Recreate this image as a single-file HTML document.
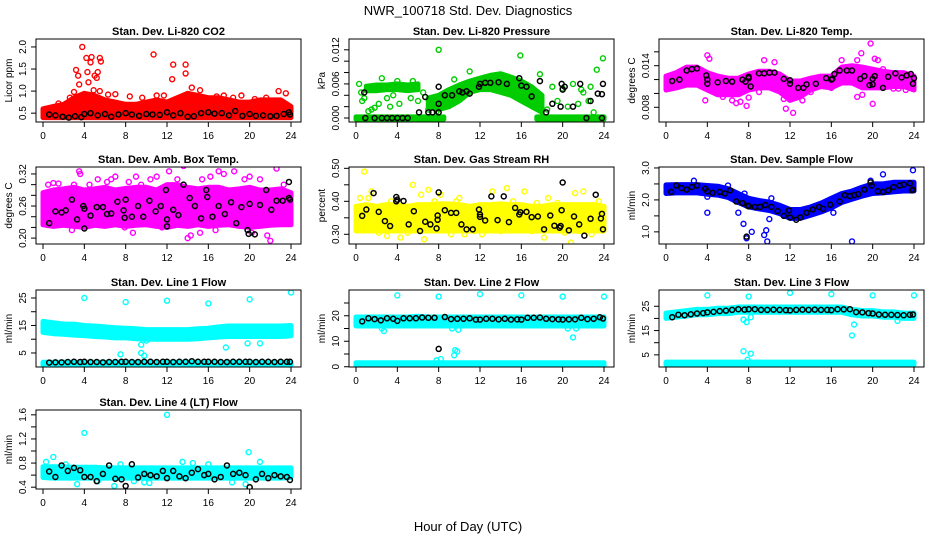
<!DOCTYPE html>
<html><head><meta charset="utf-8">
<style>
html,body{margin:0;padding:0;background:#fff;}
svg{display:block;font-family:"Liberation Sans",sans-serif;}
</style></head>
<body>
<svg id="chart" width="936" height="540" viewBox="0 0 936 540" xmlns="http://www.w3.org/2000/svg">
<rect width="936" height="540" fill="#fff"/>
<text x="468" y="15" text-anchor="middle" font-size="13">NWR_100718  Std. Dev. Diagnostics</text>
<text x="468" y="531" text-anchor="middle" font-size="13">Hour of Day (UTC)</text>
</svg>
<script>
const H = [0,1,2,3,4,5,6,7,8,9,10,11,12,13,14,15,16,17,18,19,20,21,22,23,24];
const xTicks = [0,4,8,12,16,20,24];

// Panel 1: Li-820 CO2
const co2Lo = [0.4,0.4,0.4,0.4,0.4,0.4,0.4,0.4,0.4,0.4,0.4,0.4,0.4,0.4,0.4,0.4,0.4,0.4,0.4,0.4,0.4,0.4,0.4,0.4,0.4];
const co2Hi = [0.6,0.65,0.7,0.85,0.95,0.9,0.8,0.75,0.7,0.7,0.75,0.8,0.75,0.85,0.95,0.9,0.85,0.85,0.8,0.75,0.75,0.8,0.8,0.8,0.65];
const co2OutX = [3.2,3.4,3.5,3.8,4.2,4.3,4.4,4.6,4.7,5,5.2,5.3,5.5,5.6,5.5,10.7,12.5,12.6,13.8,13.8,14.4,11.7,7,22.8,19.2,3,4.9,2.6,6.3,8.4,9.6,11,15.2,16.8,18.4,20.5,21.6,23.5,1.5,17.5];
const co2OutY = [1.48,1.35,1.15,2.0,1.75,1.43,1.2,1.65,1.77,1.35,1.3,1.43,1.75,1.67,1.0,1.83,1.27,1.6,1.6,1.4,1.08,0.9,0.93,1.0,0.9,0.98,1.02,0.85,0.92,0.88,0.85,0.9,1.02,0.88,0.85,0.82,0.85,0.95,0.72,0.9];
const co2BlkX = [0.6,1.2,1.9,2.5,3.1,3.7,4,4.6,5.3,6,6.6,7.3,8,8.6,9.3,10,10.6,11.3,12,12.6,13.3,14,14.6,15.3,16,16.6,17.3,18,18.6,19.3,20,20.6,21.3,22,22.6,23.3,23.8,23.9];
const co2BlkY = [0.47,0.45,0.42,0.4,0.43,0.41,0.48,0.5,0.45,0.48,0.42,0.47,0.5,0.47,0.44,0.48,0.47,0.46,0.52,0.45,0.5,0.42,0.43,0.5,0.52,0.49,0.5,0.45,0.55,0.44,0.48,0.44,0.45,0.43,0.44,0.48,0.52,0.47];

// Panel 2: Li-820 Pressure
const prZeroAX = [0,8.5], prZeroALo=[-0.0002,-0.0002], prZeroAHi=[0.0002,0.0002];
const prZeroBX = [17.5,24], prZeroBLo=[-0.0002,-0.0002], prZeroBHi=[0.0002,0.0002];
const prDiagX = [7,8,9,10,11,12,13,14,15,16,17,18];
const prDiagLo = [0.002,0.0015,0.002,0.003,0.0045,0.005,0.005,0.0045,0.004,0.003,0.002,0.001];
const prDiagHi = [0.0035,0.004,0.005,0.0058,0.0065,0.007,0.0075,0.0078,0.0072,0.0065,0.0055,0.004];
const prTopX = [1,2,3,4,5,6], prTopLo=[0.0048,0.0048,0.005,0.005,0.0048,0.005], prTopHi=[0.0056,0.0058,0.0058,0.006,0.0058,0.006];
const prOutX = [0.3,0.5,0.8,1.2,1.5,1.8,2.5,3,3.3,4,4.2,4.8,5.3,5.5,6,6.5,7,7.8,8,9.5,11,15.9,17.8,21,22,23.3,23.9,19.5,20.5,21.5,22.5,23,18.5,20,22.7,19,21.8,0.6,2.2,3.6];
const prOutY = [0.006,0.0045,0.0035,0.0012,0.0015,0.0018,0.007,0.0035,0.002,0.0065,0.0025,0.005,0.0035,0.0065,0.003,0.0045,0.0015,0.0012,0.012,0.0068,0.0082,0.011,0.0077,0.006,0.0045,0.0085,0.0105,0.003,0.002,0.0025,0.003,0.001,0.0015,0.0052,0.0055,0.0055,0.005,0.003,0.0025,0.004];
const prBlkX = [0.9,1.8,2.5,3,3.5,4,4.5,5,0.8,7.4,8,8,8,6.1,7,6.7,8.6,9.3,10,10.7,11,11.9,12,12.5,13,13.8,14.6,15.8,16,16.5,17,17.8,18.4,19,19.8,20.2,21,21.7,22.3,23.4,23.8,23.9,23.8,19.9,20,10.3,22.7];
const prBlkY = [0,0,0,0,0,0,0,0,0.0045,0.001,0.001,0.0025,0.0055,0.001,0.001,0.0037,0.004,0.004,0.0047,0.0047,0.0043,0.0055,0.006,0.0062,0.0062,0.0063,0.006,0.007,0.0057,0.0055,0.0038,0.0065,0.001,0.0025,0.002,0.0055,0.002,0.006,0,0.0043,0.0042,0.006,0,0.006,0.005,0.0045,0.003];

// Panel 3: Li-820 Temp
const tmpLo = [0.0105,0.0108,0.0112,0.0112,0.0105,0.0098,0.0098,0.0098,0.0105,0.0108,0.0108,0.0102,0.009,0.0095,0.0105,0.011,0.0108,0.0115,0.0115,0.0108,0.0108,0.0108,0.011,0.011,0.0105];
const tmpHi = [0.0125,0.013,0.0138,0.0138,0.013,0.0125,0.0122,0.0122,0.0128,0.0132,0.0132,0.0128,0.0118,0.0118,0.0122,0.0125,0.0125,0.0138,0.014,0.0138,0.0135,0.0132,0.013,0.013,0.0125];
const tmpOutX = [4,4.2,3.8,6.4,6.8,7.2,7.8,8,9.5,10.5,11.4,11.6,12.3,12.6,13.2,17,18.5,18.9,19.8,20.2,20.5,21,18.5,19,20,22.5,23.2,5.5,9,14,16,22];
const tmpOutY = [0.0155,0.015,0.009,0.009,0.0086,0.0088,0.0082,0.0094,0.0148,0.0145,0.0092,0.0078,0.0072,0.0095,0.009,0.0148,0.0148,0.0158,0.0172,0.015,0.0148,0.0135,0.0095,0.0098,0.0085,0.0107,0.0105,0.0095,0.0102,0.0102,0.0108,0.0107];
const tmpBlkX = [0.6,1.3,2,2.5,3,3.9,4,4,5,5.8,6.4,7.4,7.7,8,8,8.2,9,9.5,10,10.5,11.4,12,12,12.8,13.3,13.6,14.5,15.5,16,16.1,16.3,16.8,17.5,18,18.8,19.2,19.7,20,20,20.2,21,21.5,22.2,22.8,23.3,23.7,23.9,24];
const tmpBlkY = [0.0118,0.012,0.0133,0.0135,0.0136,0.0126,0.012,0.0114,0.0116,0.0118,0.0117,0.012,0.0117,0.0124,0.0122,0.011,0.0129,0.0129,0.013,0.013,0.0121,0.0114,0.0119,0.0108,0.0108,0.0113,0.0114,0.0122,0.012,0.0121,0.0128,0.0133,0.0133,0.0133,0.0121,0.0125,0.0112,0.0113,0.0121,0.0125,0.0108,0.0124,0.0129,0.0123,0.0126,0.0128,0.0114,0.0122];

// Panel 4: Amb. Box Temp
const ambLo = [0.225,0.222,0.224,0.222,0.22,0.224,0.222,0.225,0.222,0.224,0.225,0.222,0.22,0.224,0.222,0.225,0.222,0.224,0.225,0.222,0.22,0.222,0.224,0.225,0.225];
const ambHi = [0.285,0.29,0.292,0.295,0.29,0.292,0.295,0.29,0.293,0.295,0.295,0.29,0.3,0.3,0.295,0.292,0.295,0.295,0.29,0.292,0.295,0.29,0.29,0.292,0.285];
const ambOutX = [0.5,1,1.5,3,3.5,3.6,4.5,5.3,6.2,6.6,7,7.9,8.3,9,9.5,10.4,11,12.2,13,13.6,14,14.3,15.2,15.4,16.2,17,17.5,18.5,19.5,20,20.2,21,21.7,22,22.6,23.3,2.8,8.7,11.5,16.7];
const ambOutY = [0.3,0.303,0.302,0.3,0.325,0.32,0.3,0.31,0.305,0.31,0.315,0.22,0.305,0.315,0.3,0.31,0.315,0.325,0.31,0.335,0.2,0.205,0.21,0.31,0.315,0.325,0.32,0.325,0.31,0.315,0.21,0.31,0.205,0.195,0.33,0.3,0.215,0.21,0.22,0.215];
const ambBlkX = [0.6,1.2,1.8,2.2,2.8,3.3,3.9,4,4,4.6,5.2,5.8,6.2,6.6,7.2,7.8,7.9,8,8.6,9.2,9.7,10.3,10.9,11.4,11.9,12,12,12.6,13.1,13.6,14.2,14.7,15.3,15.8,15.9,16.4,17,17.6,18.2,18.7,19.2,19.8,19.9,20,20.5,21,21.6,22.1,22.6,23.2,23.8,23.8,23.9];
const ambBlkY = [0.228,0.25,0.248,0.252,0.272,0.235,0.26,0.255,0.218,0.242,0.258,0.258,0.245,0.246,0.268,0.252,0.238,0.272,0.24,0.26,0.24,0.27,0.25,0.26,0.29,0.235,0.222,0.253,0.243,0.3,0.275,0.26,0.237,0.29,0.277,0.24,0.26,0.245,0.267,0.228,0.258,0.215,0.208,0.264,0.207,0.262,0.29,0.253,0.27,0.27,0.305,0.275,0.272];

// Panel 5: Gas Stream RH
const rhLo = [0.31,0.31,0.31,0.31,0.31,0.31,0.31,0.31,0.31,0.31,0.31,0.31,0.31,0.31,0.31,0.31,0.31,0.31,0.31,0.31,0.31,0.31,0.31,0.31,0.31];
const rhHi = [0.385,0.39,0.385,0.39,0.39,0.385,0.39,0.39,0.392,0.392,0.39,0.385,0.39,0.39,0.392,0.39,0.39,0.385,0.385,0.39,0.39,0.39,0.39,0.39,0.385];
const rhOutX = [0.4,0.8,1.2,1.5,2.2,2.6,3,3.4,4.3,5.5,6.3,6.6,7,7.6,8.2,9.2,10,10.5,11.5,12.2,13.2,14.6,15.2,16.3,17.5,18.2,18.6,19.5,20.2,20.8,21.2,21.6,22,22.8,23.5,0.2,5,9.7,14,17];
const rhOutY = [0.41,0.49,0.41,0.43,0.305,0.38,0.295,0.4,0.29,0.45,0.42,0.285,0.435,0.4,0.42,0.3,0.41,0.3,0.31,0.3,0.43,0.44,0.4,0.43,0.395,0.29,0.41,0.395,0.305,0.275,0.425,0.31,0.43,0.3,0.4,0.32,0.305,0.4,0.31,0.31];
const rhBlkX = [0.6,1,1.7,2.2,2.8,3.3,3.9,3.9,4,4.6,5.1,5.6,6.2,6.7,7.2,7.8,7.9,7.9,8,8.6,9.2,9.7,10.2,10.7,11.3,11.9,12,12,12.5,13.1,13.7,14.3,14.8,15.4,15.8,15.9,16.5,17,17.6,18.2,18.8,19.2,19.7,19.8,19.9,20,20.6,21.1,21.6,22.1,22.7,23.2,23.7,23.8,23.9];
const rhBlkY = [0.356,0.375,0.425,0.368,0.34,0.325,0.413,0.4,0.405,0.401,0.33,0.37,0.31,0.338,0.33,0.318,0.344,0.357,0.427,0.373,0.365,0.365,0.33,0.315,0.315,0.375,0.36,0.353,0.342,0.415,0.343,0.415,0.337,0.38,0.36,0.367,0.368,0.352,0.354,0.315,0.357,0.326,0.32,0.325,0.373,0.457,0.312,0.354,0.33,0.296,0.347,0.42,0.348,0.362,0.315];

// Panel 6: Sample Flow
const sfLo = [2.2,2.22,2.22,2.22,2.18,2.15,2.08,1.92,1.78,1.72,1.67,1.57,1.42,1.42,1.52,1.62,1.75,1.92,2.02,2.12,2.2,2.22,2.25,2.28,2.28];
const sfHi = [2.47,2.48,2.48,2.48,2.45,2.43,2.35,2.2,2.05,1.98,1.93,1.83,1.7,1.7,1.78,1.9,2.05,2.2,2.28,2.4,2.5,2.5,2.55,2.55,2.55];
const sfOutX = [4,4,7,7.5,7.8,8.3,9.5,9.7,9.8,10,10.2,18,21,23.9,16.2,19.8,2.7,6,7.6];
const sfOutY = [1.6,2.1,1.6,1.25,0.8,1.0,0.9,1.05,0.7,1.4,2.05,0.7,2.8,2.93,1.6,2.6,2.6,2.45,2.2];
const sfBlkX = [0.5,1,1.5,2,2.5,3,3.8,4,4.5,5.2,5.7,6.2,6.8,7.4,7.8,7.9,8,8.6,9.1,9.6,10.2,10.8,11.4,11.9,12,12.6,13,13.6,14.2,14.8,15.2,15.9,16.8,17.3,17.8,18.2,18.6,19.2,19.8,19.9,20.5,21,21.5,22,22.6,23,23.6,23.8,23.9];
const sfBlkY = [2.25,2.45,2.37,2.32,2.4,2.45,2.35,2.27,2.22,2.25,2.2,2.3,1.95,1.9,0.85,1.82,1.8,1.78,1.78,1.84,1.78,1.65,1.5,1.67,1.45,1.38,1.45,1.6,1.7,1.78,1.72,1.85,1.95,2.15,2.12,2.15,2.18,2.32,2.55,2.45,2.27,2.25,2.3,2.4,2.45,2.48,2.52,2.3,2.32];

// Line flows shared black x positions
const lfBlkX = [0.6,1.2,1.8,2.4,3,3.6,4,4.6,5.2,5.8,6.4,7,7.6,8,8.6,9.2,9.8,10.4,11,11.6,12,12.6,13.2,13.8,14.4,15,15.6,16,16.6,17.2,17.8,18.4,19,19.6,20,20.6,21.2,21.8,22.4,23,23.6,23.9];

// Panel 7: Line 1 Flow
const l1Lo = [12.5,12,11.8,11.5,11.3,11,10.8,10.5,10.5,10.2,10,10,10,10,10,10.2,10.5,10.8,11,11,11,11,11,11,11.2];
const l1Hi = [16.5,16,15.5,15.5,15,14.8,14.5,14.2,14,13.8,13.5,13.5,13.5,13.5,13.5,13.8,14,14.5,14.8,14.8,14.8,14.8,14.8,14.8,15];
const l1BotLo = [0.6,0.6], l1BotHi=[1.6,1.6], l1BotX=[0,24];
const l1OutX = [4,8,12,16,20,24,7.5,9.5,9.5,9.8,17.7,19.8,10,21];
const l1OutY = [25,23.5,24,23,24.5,27,4.5,8,5,4,7,8.5,9.5,8.5];
const l1BlkY = [1.5,1.6,1.6,1.7,1.8,1.7,1.8,1.7,1.7,1.6,1.7,1.7,1.8,1.8,1.7,1.7,1.8,1.8,1.7,1.8,1.8,1.7,1.8,1.8,2,1.8,1.8,1.8,1.8,1.7,1.7,1.8,1.8,1.8,1.8,1.7,1.8,1.8,1.7,1.8,1.8,1.8];

// Panel 8: Line 2 Flow
const l2Lo = [16,16,16,16,16,16,16,16,16,16,16,16,16,16,16,16,16,16,16,16,16,16,16,16,16];
const l2Hi = [19.5,19.5,19.5,19.5,19.5,19.5,19.8,19.5,19.5,19.5,19.5,19.5,19.5,19.5,19.5,19.5,19.5,19.5,19.5,19.5,19.5,19.5,19.5,19.5,19.5];
const l2BotLo = [0.4,0.4], l2BotHi=[1.6,1.6], l2BotX=[0,24];
const l2OutX = [4,8,12,16,20,24,7.8,8.2,9.5,9.6,9.8,2.5,2.7,9.3,9.9,21,20.5,21.3];
const l2OutY = [28,27.5,28.5,28,27.5,27.5,2.5,3,4.5,6.5,6,15,14,15,14.5,11.5,15,15];
const l2BlkY = [17.8,19,18.7,18.2,19,18.8,18,19,19,19,19.3,19.2,19.2,7,19.5,18.7,18.8,18.8,19,18.5,18.5,18.8,18.8,18.6,18.8,18.5,18.6,18.5,19.2,19.2,19.3,18.8,18.7,18.6,18.5,18.6,18.6,19.2,18.7,18.8,19.4,18.9];

// Panel 9: Line 3 Flow
const l3Lo = [20,20.5,21,21.5,21.5,22,22,22.5,22.5,22.5,22.5,22.5,22.5,22.5,22.5,22.5,22.5,22.5,21.5,21,21,20.5,20.5,20,20];
const l3Hi = [22.2,22.7,23.2,23.7,23.7,24.2,24.2,24.7,24.7,24.7,24.7,24.7,24.7,24.7,24.7,24.7,24.7,24.7,23.7,23.2,23.2,22.7,22.7,22.2,22.2];
const l3BotLo = [0.9,0.9], l3BotHi=[2,2], l3BotX=[0,24];
const l3OutX = [4,8,12,16,20,24,7.5,7.8,8.2,7.5,8.2,7.9,18,18.2,0.1,22.4];
const l3OutY = [29.5,29,30.5,30,29.5,29.5,19.5,18.5,20.5,6.5,5.5,3,13,17.5,22,19];
const l3BlkY = [20.5,21.5,21.3,21.7,22,22.2,22.5,22.7,23,23.2,23.5,23.8,23.6,23.8,23.8,23.5,23.5,23.6,23.5,23.4,23.3,23.5,23.6,23.5,23.6,23.5,23.5,23.4,23.8,23.7,23.8,22.6,22.5,22.2,22,21.6,21.5,21.5,21.4,21.3,21.5,21.6];

// Panel 10: Line 4 (LT) Flow
const l4Lo = [0.56,0.55,0.55,0.55,0.55,0.55,0.55,0.55,0.55,0.55,0.55,0.55,0.55,0.55,0.55,0.55,0.55,0.55,0.55,0.55,0.55,0.55,0.55,0.55,0.56];
const l4Hi = [0.74,0.74,0.74,0.73,0.73,0.73,0.72,0.72,0.72,0.72,0.72,0.72,0.72,0.72,0.72,0.72,0.72,0.72,0.72,0.72,0.72,0.72,0.72,0.72,0.72];
const l4OutX = [1,3.3,4,12,19.9,6.9,19.6,9.8,21,13.5,0.3,2.2,5.3,7.5,8.8,10.3,14.5,16,18.3];
const l4OutY = [0.9,0.45,1.3,1.6,0.98,0.42,0.45,0.48,0.82,0.82,0.82,0.78,0.5,0.78,0.5,0.47,0.8,0.78,0.48];
const l4BlkY = [0.66,0.57,0.76,0.67,0.72,0.68,0.57,0.57,0.5,0.62,0.76,0.54,0.53,0.42,0.78,0.56,0.62,0.6,0.58,0.67,0.55,0.67,0.58,0.55,0.64,0.7,0.6,0.62,0.53,0.57,0.76,0.62,0.64,0.6,0.4,0.53,0.62,0.55,0.6,0.58,0.57,0.52];

const NS = 'http://www.w3.org/2000/svg';
const svg = document.getElementById('chart');
const ROWS = [[39,122],[167,244],[290,367],[410,489]];
const COLS = [36,349,659];
const BW = 265;

function mk(tag, attrs, parent){
  const e = document.createElementNS(NS, tag);
  for (const k in attrs) e.setAttribute(k, attrs[k]);
  (parent||svg).appendChild(e);
  return e;
}

const panels = [
 {key:'co2', r:0,c:0, title:'Stan. Dev. Li-820 CO2', ylab:'Licor ppm', col:'#ff0000', ylim:[0.30,2.18], ticks:[0.5,1.0,1.5,2.0], labs:['0.5','1.0','1.5','2.0'],
  bands:[[H,co2Lo,co2Hi]], out:[co2OutX,co2OutY], blk:[co2BlkX,co2BlkY]},
 {key:'pressure', r:0,c:1, title:'Stan. Dev. Li-820 Pressure', ylab:'kPa', col:'#00cc00', ylim:[-0.0007,0.0139], ticks:[0,0.002,0.004,0.006,0.008,0.010,0.012], labs:['0.000','','','0.006','','','0.012'],
  bands:[[prZeroAX,prZeroALo,prZeroAHi],[prZeroBX,prZeroBLo,prZeroBHi],[prDiagX,prDiagLo,prDiagHi],[prTopX,prTopLo,prTopHi]], out:[prOutX,prOutY], blk:[prBlkX,prBlkY]},
 {key:'temp', r:0,c:2, title:'Stan. Dev. Li-820 Temp.', ylab:'degrees C', col:'#ff00ff', ylim:[0.00588,0.01785], ticks:[0.008,0.010,0.012,0.014,0.016], labs:['0.008','','','0.014',''],
  bands:[[H,tmpLo,tmpHi]], out:[tmpOutX,tmpOutY], blk:[tmpBlkX,tmpBlkY]},
 {key:'amb-box-temp', r:1,c:0, title:'Stan. Dev. Amb. Box Temp.', ylab:'degrees C', col:'#ff00ff', ylim:[0.189,0.333], ticks:[0.20,0.22,0.24,0.26,0.28,0.30,0.32], labs:['0.20','','','0.26','','','0.32'],
  bands:[[H,ambLo,ambHi]], out:[ambOutX,ambOutY], blk:[ambBlkX,ambBlkY]},
 {key:'gas-rh', r:1,c:1, title:'Stan. Dev. Gas Stream RH', ylab:'percent', col:'#ffff00', ylim:[0.2706,0.504], ticks:[0.30,0.35,0.40,0.45,0.50], labs:['0.30','','0.40','','0.50'],
  bands:[[H,rhLo,rhHi]], out:[rhOutX,rhOutY], blk:[rhBlkX,rhBlkY]},
 {key:'sample-flow', r:1,c:2, title:'Stan. Dev. Sample Flow', ylab:'ml/min', col:'#0000ff', ylim:[0.62,3.03], ticks:[1.0,1.5,2.0,2.5,3.0], labs:['1.0','','2.0','','3.0'],
  bands:[[H,sfLo,sfHi]], out:[sfOutX,sfOutY], blk:[sfBlkX,sfBlkY]},
 {key:'line1', r:2,c:0, title:'Stan. Dev. Line 1 Flow', ylab:'ml/min', col:'#00ffff', ylim:[-0.1,27.9], ticks:[5,10,15,20,25], labs:['5','','15','','25'],
  bands:[[H,l1Lo,l1Hi],[l1BotX,l1BotLo,l1BotHi]], out:[l1OutX,l1OutY], blk:[lfBlkX,l1BlkY]},
 {key:'line2', r:2,c:1, title:'Stan. Dev. Line 2 Flow', ylab:'ml/min', col:'#00ffff', ylim:[-0.1,30.1], ticks:[0,5,10,15,20,25], labs:['0','','10','','20',''],
  bands:[[H,l2Lo,l2Hi],[l2BotX,l2BotLo,l2BotHi]], out:[l2OutX,l2OutY], blk:[lfBlkX,l2BlkY]},
 {key:'line3', r:2,c:2, title:'Stan. Dev. Line 3 Flow', ylab:'ml/min', col:'#00ffff', ylim:[0,31.7], ticks:[5,10,15,20,25], labs:['5','','15','','25'],
  bands:[[H,l3Lo,l3Hi],[l3BotX,l3BotLo,l3BotHi]], out:[l3OutX,l3OutY], blk:[lfBlkX,l3BlkY]},
 {key:'line4', r:3,c:0, title:'Stan. Dev. Line 4 (LT) Flow', ylab:'ml/min', col:'#00ffff', ylim:[0.37,1.68], ticks:[0.4,0.6,0.8,1.0,1.2,1.4,1.6], labs:['0.4','','0.8','','1.2','','1.6'],
  bands:[[H,l4Lo,l4Hi]], out:[l4OutX,l4OutY], blk:[lfBlkX,l4BlkY]}
];

panels.forEach(p => {
  const left = COLS[p.c];
  const top = ROWS[p.r][0], bot = ROWS[p.r][1];
  const sx = h => left + 7 + h * 248 / 24;
  const sy = v => bot - (v - p.ylim[0]) / (p.ylim[1] - p.ylim[0]) * (bot - top);
  const g = mk('g', {});
  
  
  const cp = mk('clipPath', {id: 'clip-' + p.key}, g);
  mk('rect', {x: left, y: top, width: BW, height: bot - top}, cp);
  const plot = mk('g', {'clip-path': 'url(#clip-' + p.key + ')'}, g);
  p.bands.forEach(b => {
    const [bx, lo, hi] = b;
    let d = 'M' + bx.map((h, i) => sx(h).toFixed(1) + ',' + sy(hi[i]).toFixed(1)).join('L');
    for (let i = bx.length - 1; i >= 0; i--) d += 'L' + sx(bx[i]).toFixed(1) + ',' + sy(lo[i]).toFixed(1);
    d += 'Z';
    const path = mk('path', {d: d, fill: p.col, stroke: p.col, 'stroke-width': 5, 'stroke-linejoin': 'round'}, plot);
    
    
  });
  p.out[0].forEach((h, i) => {
    const c = mk('circle', {cx: sx(h), cy: sy(p.out[1][i]), r: 2.5, fill: 'none', stroke: p.col, 'stroke-width': 1.4}, plot);
    
    
  });
  p.blk[0].forEach((h, i) => {
    const c = mk('circle', {cx: sx(h), cy: sy(p.blk[1][i]), r: 2.5, fill: 'none', stroke: '#000', 'stroke-width': 1.5}, plot);
    
    
  });
  const box = mk('rect', {x: left, y: top, width: BW, height: bot - top, fill: 'none', stroke: '#000', 'stroke-width': 1}, g);
  
  
  const xa = mk('g', {}, g);
  
  
  mk('line', {x1: sx(0), x2: sx(24), y1: bot, y2: bot, stroke: '#000'}, xa);
  xTicks.forEach(t => {
    mk('line', {x1: sx(t), x2: sx(t), y1: bot, y2: bot + 5, stroke: '#000'}, xa);
    const tx = mk('text', {x: sx(t), y: bot + 17, 'text-anchor': 'middle', 'font-size': 10}, xa);
    tx.textContent = t;
    
    
  });
  const ya = mk('g', {}, g);
  
  
  const t0 = p.ticks[0], t1 = p.ticks[p.ticks.length - 1];
  mk('line', {x1: left, x2: left, y1: sy(t0), y2: sy(t1), stroke: '#000'}, ya);
  p.ticks.forEach((t, i) => {
    const y = sy(t);
    mk('line', {x1: left - 5, x2: left, y1: y, y2: y, stroke: '#000'}, ya);
    if (p.labs[i]) {
      const tx = mk('text', {x: left - 10, y: y, 'text-anchor': 'middle', 'font-size': 10, transform: 'rotate(-90 ' + (left - 10) + ' ' + y + ')'}, ya);
      tx.textContent = p.labs[i];
      
      
    }
  });
  const yl = mk('text', {x: left - 24, y: (top + bot) / 2, 'text-anchor': 'middle', 'font-size': 10, transform: 'rotate(-90 ' + (left - 24) + ' ' + ((top + bot) / 2) + ')'}, g);
  yl.textContent = p.ylab;
  
  
  const tt = mk('text', {x: left + BW / 2, y: top - 4, 'text-anchor': 'middle', 'font-size': 11, 'font-weight': 'bold'}, g);
  tt.textContent = p.title;
  
  
});
</script>
</body></html>
